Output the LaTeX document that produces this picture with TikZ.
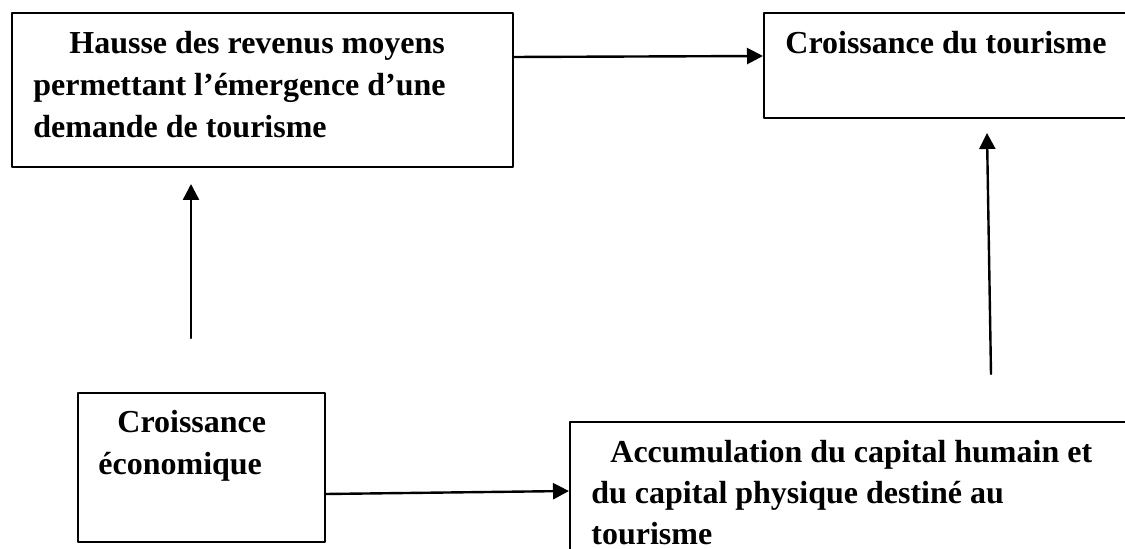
\documentclass[tikz,border=0pt]{standalone}
\usepackage{fontspec}
\setmainfont{Liberation Serif}
\usetikzlibrary{arrows.meta}

\begin{document}
\begin{tikzpicture}[x=0.5pt, y=-0.5pt, line cap=round, line join=round,
    box/.style={draw, line width=0.9pt, inner sep=0pt, anchor=north west},
    txt/.style={anchor=north west, inner sep=0pt, align=left,
        font=\bfseries\fontsize{16}{21}\selectfont},
    link/.style={line width=1.2pt, -{Triangle[length=8pt, width=8pt]}}]

    \useasboundingbox (0,0) rectangle (1125,549);
    \clip (0,0) rectangle (1125,549);

    % boxes
    \node[box, minimum width=250.5pt, minimum height=77pt] (revenus) at (11,12) {};
    \node[box, minimum width=190pt, minimum height=52.5pt] (tourisme) at (763,12) {};
    \node[box, minimum width=123.5pt, minimum height=74.5pt] (croissance) at (77,392) {};
    \node[box, minimum width=290pt, minimum height=80pt] (capital) at (569,421) {};

    % texts
    \node[txt] (revenusT) at ([shift={(22,19)}]revenus.north west)
        {\hspace*{18pt}Hausse des revenus moyens\\permettant l’émergence d’une\\demande de tourisme};
    \node[txt] (tourismeT) at ([shift={(22,19)}]tourisme.north west) {Croissance du tourisme};
    \node[txt] (croissanceT) at ([shift={(21,18)}]croissance.north west)
        {\hspace*{9.5pt}Croissance\\économique};
    \node[txt, font=\bfseries\fontsize{16}{20.5}\selectfont] (capitalT) at ([shift={(22,19)}]capital.north west)
        {\hspace*{9.5pt}Accumulation du capital humain et\\du capital physique destiné au\\tourisme};

    % free ends of the vertical arrows
    \coordinate (leftLow) at (191,338);
    \coordinate (leftHigh) at (191,184);
    \coordinate (rightLow) at (991,374);
    \coordinate (rightHigh) at (987,133);

    % arrows
    \draw[link] ([shift={(0,45)}]revenus.north east) -- ([shift={(0,44)}]tourisme.north west);
    \draw[link] ([shift={(0,102)}]croissance.north east) -- ([shift={(0,70)}]capital.north west);
    \draw[link] (leftLow) -- (leftHigh);
    \draw[link] (rightLow) -- (rightHigh);

\end{tikzpicture}
\end{document}
